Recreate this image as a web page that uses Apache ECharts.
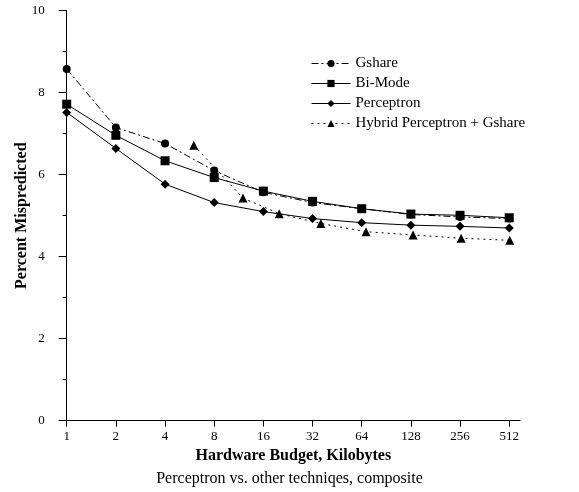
<!DOCTYPE html>
<html>
<head>
<meta charset="utf-8">
<script src="https://cdn.jsdelivr.net/npm/echarts@6/dist/echarts.min.js"></script>
<style>html,body{margin:0;padding:0;background:#fff}#chart{width:579px;height:492px}</style>
</head>
<body>
<div id="chart"></div>
<script>
const sizes = [1, 2, 4, 8, 16, 32, 64, 128, 256, 512];
const gshare = [8.58, 7.15, 6.76, 6.10, 5.57, 5.32, 5.17, 5.03, 4.97, 4.93];
const biMode = [7.72, 6.96, 6.34, 5.93, 5.60, 5.35, 5.17, 5.04, 5.01, 4.95];
const perceptron = [7.52, 6.64, 5.77, 5.32, 5.10, 4.93, 4.83, 4.77, 4.74, 4.70];
const hybridSizes = [6, 12, 20, 36, 68, 132, 260, 516];
const hybrid = [6.72, 5.43, 5.05, 4.81, 4.61, 4.53, 4.45, 4.40];
const yTicks = [0, 2, 4, 6, 8, 10];

const FONT = 'Liberation Serif';
const pair = (xs, ys) => xs.map((x, i) => [x, ys[i]]);

const chart = echarts.init(document.getElementById('chart'), null, {renderer: 'canvas'});
chart.setOption({
  animation: false,
  backgroundColor: '#fff',
  title: {
    text: 'Perceptron vs. other techniqes, composite',
    left: 'center',
    top: 466,
    textStyle: {fontFamily: FONT, fontSize: 16, fontWeight: 'normal', color: '#000'}
  },
  grid: {left: 66.7, right: 59, top: 10.7, bottom: 71.3, containLabel: false, outerBoundsMode: 'none'},
  legend: {
    orient: 'vertical',
    left: 306,
    top: 51,
    itemWidth: 39,
    itemHeight: 9,
    itemGap: 5,
    lineStyle: {width: 1},
    textStyle: {fontFamily: FONT, fontSize: 15, color: '#000'},
    data: ['Gshare', 'Bi-Mode', 'Perceptron', 'Hybrid Perceptron + Gshare']
  },
  xAxis: {
    type: 'log',
    logBase: 2,
    min: 1,
    max: 596,
    name: 'Hardware Budget, Kilobytes',
    nameLocation: 'middle',
    nameGap: 25,
    nameTextStyle: {fontFamily: FONT, fontSize: 16, fontWeight: 'bold', color: '#000'},
    axisLine: {show: true, lineStyle: {color: '#000', width: 1}},
    axisTick: {show: true, length: 6, customValues: sizes, lineStyle: {color: '#000'}},
    axisLabel: {customValues: sizes, margin: 9, fontFamily: FONT, fontSize: 13, color: '#000',
      formatter: v => String(Math.round(v))},
    splitLine: {show: false}
  },
  yAxis: {
    type: 'value',
    min: 0,
    max: 10,
    interval: 2,
    name: 'Percent Mispredicted',
    nameLocation: 'middle',
    nameGap: 37,
    nameMoveOverlap: false,
    nameTextStyle: {fontFamily: FONT, fontSize: 16, fontWeight: 'bold', color: '#000'},
    axisLine: {show: true, lineStyle: {color: '#000', width: 1}},
    axisTick: {show: true, length: 8, lineStyle: {color: '#000'}},
    minorTick: {show: true, splitNumber: 2, length: 4, lineStyle: {color: '#000'}},
    axisLabel: {margin: 22, fontFamily: FONT, fontSize: 13, color: '#000',
      formatter: v => yTicks.includes(v) ? String(v) : ''},
    splitLine: {show: false}
  },
  series: [
    {
      name: 'Gshare', type: 'line', data: pair(sizes, gshare),
      symbol: 'circle', symbolSize: 8,
      itemStyle: {color: '#000'},
      lineStyle: {color: '#000', width: 1, type: [7, 3, 2, 3]}
    },
    {
      name: 'Bi-Mode', type: 'line', data: pair(sizes, biMode),
      symbol: 'rect', symbolSize: 9,
      itemStyle: {color: '#000'},
      lineStyle: {color: '#000', width: 1, type: 'solid'}
    },
    {
      name: 'Perceptron', type: 'line', data: pair(sizes, perceptron),
      symbol: 'diamond', symbolSize: 9,
      itemStyle: {color: '#000'},
      lineStyle: {color: '#000', width: 1, type: 'solid'}
    },
    {
      name: 'Hybrid Perceptron + Gshare', type: 'line', data: pair(hybridSizes, hybrid),
      symbol: 'triangle', symbolSize: 9,
      itemStyle: {color: '#000'},
      lineStyle: {color: '#000', width: 1, type: [2, 4]}
    }
  ]
});
</script>
</body>
</html>
